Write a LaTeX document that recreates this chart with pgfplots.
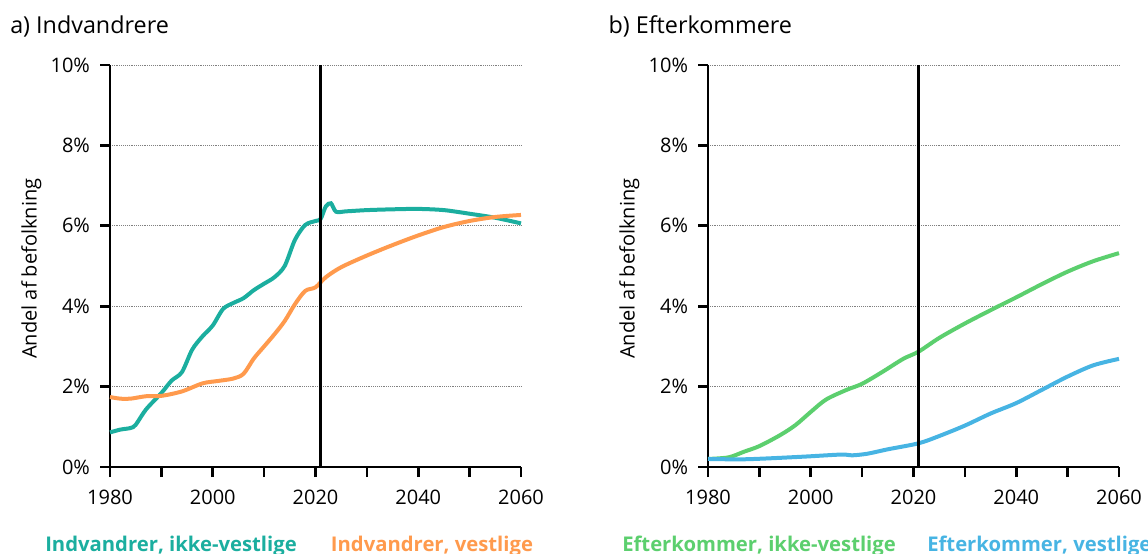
\documentclass[border=0pt]{standalone}
\usepackage{pgfplots}
\pgfplotsset{compat=1.18}
\usepackage{fontspec}
\setmainfont{Open Sans}

\definecolor{teal1}{RGB}{27,174,159}
\definecolor{orange1}{RGB}{255,154,77}
\definecolor{green1}{RGB}{92,207,110}
\definecolor{blue1}{RGB}{71,180,227}

\pgfplotsset{
  panel/.style={
    scale only axis,
    width=308.25pt, height=301.5pt,
    anchor=south west,
    xmin=1980, xmax=2060, ymin=0, ymax=10,
    axis x line=bottom, axis y line=left,
    axis line style={-, line width=2pt},
    every tick/.style={black, line width=2pt},
    tick align=outside,
    major tick length=7.5pt,
    xtick={1980,1990,...,2060},
    xticklabels={1980,,2000,,2020,,2040,,2060},
    ytick={0,2,...,10},
    yticklabel={\pgfmathprintnumber{\tick}\%},
    /pgf/number format/assume math mode=true,
    ymajorgrids,
    grid style={densely dotted, gray, line width=0.6pt},
    tick label style={font=\fontsize{15}{18}\selectfont},
    xticklabel style={yshift=-6pt},
    yticklabel style={xshift=-4pt},
    ylabel={Andel af befolkning},
    every axis y label/.style={at={(ticklabel cs:0.5)}, rotate=90, anchor=near ticklabel,
      xshift=-2pt, font=\fontsize{15}{18}\selectfont},
    clip=false,
  },
  serie/.style={line width=3pt, smooth, no marks},
  vline/.style={black, line width=1.8pt, no marks},
}

\begin{document}
\begin{tikzpicture}
\useasboundingbox (0,0) rectangle (861pt,414.75pt);

\node[anchor=base west, font=\fontsize{17.5}{20}\selectfont, inner sep=0pt] at (7.5pt,389.8pt) {a) Indvandrere};
\node[anchor=base west, font=\fontsize{17.5}{20}\selectfont, inner sep=0pt] at (456.2pt,389.8pt) {b) Efterkommere};

\begin{axis}[panel, at={(82.5pt,64.5pt)}]
  \addplot[serie, teal1] coordinates {
    (1980,0.86) (1982,0.93) (1984,0.97) (1985,1.05) (1987,1.43) (1990,1.84)
    (1992,2.15) (1994,2.36) (1996,2.92) (1998,3.25) (2000,3.52) (2002,3.93)
    (2004,4.08) (2006,4.20) (2008,4.40) (2010,4.56) (2012,4.72) (2014,5.00)
    (2016,5.65) (2018,6.02) (2020,6.12) (2021,6.17) (2022,6.48) (2023,6.56)
    (2024,6.35) (2026,6.36) (2030,6.39) (2035,6.41) (2040,6.42) (2045,6.39)
    (2050,6.30) (2055,6.20) (2060,6.06)
  };
  \addplot[serie, orange1] coordinates {
    (1980,1.74) (1982,1.70) (1984,1.70) (1987,1.76) (1990,1.77) (1994,1.88)
    (1998,2.08) (2001,2.14) (2004,2.20) (2006,2.32) (2008,2.70) (2010,3.00)
    (2012,3.30) (2014,3.63) (2016,4.05) (2018,4.38) (2020,4.47) (2022,4.72)
    (2025,4.97) (2030,5.26) (2035,5.52) (2040,5.76) (2045,5.97) (2050,6.12)
    (2055,6.22) (2060,6.27)
  };
  \addplot[vline] coordinates {(2021,0) (2021,10)};
\end{axis}

\begin{axis}[panel, at={(531pt,64.5pt)}]
  \addplot[serie, green1] coordinates {
    (1980,0.20) (1984,0.24) (1987,0.38) (1990,0.52) (1994,0.79) (1997,1.04)
    (2000,1.37) (2003,1.68) (2007,1.92) (2010,2.07) (2014,2.37) (2018,2.69)
    (2021,2.87) (2025,3.21) (2030,3.57) (2035,3.90) (2040,4.22) (2045,4.55)
    (2050,4.86) (2055,5.12) (2060,5.32)
  };
  \addplot[serie, blue1] coordinates {
    (1980,0.20) (1986,0.19) (1991,0.21) (1999,0.26) (2006,0.31) (2008,0.29)
    (2011,0.33) (2015,0.44) (2021,0.59) (2025,0.77) (2030,1.03) (2035,1.33)
    (2040,1.59) (2045,1.92) (2050,2.25) (2055,2.53) (2060,2.69)
  };
  \addplot[vline] coordinates {(2021,0) (2021,10)};
\end{axis}

\tikzset{legtext/.style={anchor=base west, font=\bfseries\fontsize{15.2}{18}\selectfont, inner sep=0pt}}
\node[legtext, text=teal1] at (33.75pt,0.8pt) {Indvandrer, ikke-vestlige};
\node[legtext, text=orange1] at (248pt,0.8pt) {Indvandrer, vestlige};
\node[legtext, text=green1] at (466.5pt,0.8pt) {Efterkommer, ikke-vestlige};
\node[legtext, text=blue1] at (695.25pt,0.8pt) {Efterkommer, vestlige};
\end{tikzpicture}
\end{document}
